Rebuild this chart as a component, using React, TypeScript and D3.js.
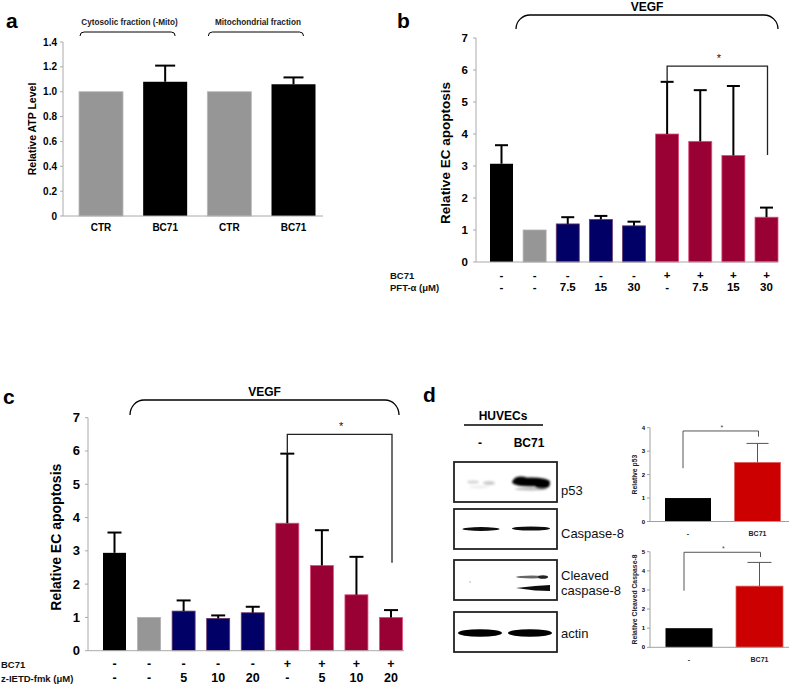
import React from "react";
import * as d3 from "d3";

const FONT = "'Liberation Sans', Arial, Helvetica, sans-serif";

// ---------- Panel a ----------
const aCategories = ["CTR", "BC71", "CTR", "BC71"];
const aValues = [1.0, 1.08, 1.0, 1.06];
const aErrors = [0, 0.13, 0, 0.055];
const aTicks = [0, 0.2, 0.4, 0.6, 0.8, 1.0, 1.2, 1.4];
const aGroups = ["Cytosolic fraction (-Mito)", "Mitochondrial fraction"];

// ---------- Panel b ----------
const bBC71 = ["-", "-", "-", "-", "-", "+", "+", "+", "+"];
const bPFT = ["-", "-", "7.5", "15", "30", "-", "7.5", "15", "30"];
const bValues = [3.07, 1.0, 1.19, 1.33, 1.13, 4.0, 3.77, 3.33, 1.4];
const bErrors = [0.58, 0, 0.21, 0.11, 0.13, 1.63, 1.6, 2.17, 0.3];
const bTicks = [0, 1, 2, 3, 4, 5, 6, 7];
const bSig = { from: 5, to: 8, level: 6.12, rightEnd: 3.34 };

// ---------- Panel c ----------
const cBC71 = ["-", "-", "-", "-", "-", "+", "+", "+", "+"];
const cIETD = ["-", "-", "5", "10", "20", "-", "5", "10", "20"];
const cValues = [2.94, 1.0, 1.19, 0.97, 1.14, 3.83, 2.56, 1.68, 1.0];
const cErrors = [0.61, 0, 0.32, 0.09, 0.18, 2.09, 1.06, 1.14, 0.22];
const cTicks = [0, 1, 2, 3, 4, 5, 6, 7];
const cSig = { from: 5, to: 8, level: 6.5, rightEnd: 2.64 };

// ---------- Panel d ----------
const dCategories = ["-", "BC71"];
const dP53Values = [1.0, 2.52];
const dP53Errors = [0, 0.81];
const dP53Ticks = [0, 1, 2, 3, 4];
const dP53Sig = { level: 3.86, leftEnd: 2.27, rightEnd: 3.62 };
const dCasValues = [1.0, 3.2];
const dCasErrors = [0, 1.24];
const dCasTicks = [0, 1, 2, 3, 4, 5];
const dCasSig = { level: 4.97, leftEnd: 2.96, rightEnd: 4.72 };
const blotLanes = ["-", "BC71"];
const blotRows = [["p53"], ["Caspase-8"], ["Cleaved", "caspase-8"], ["actin"]];

// ---------- colours ----------
const BLACK = "#000000";
const GRAY = "#969696";
const NAVY = "#000066";
const CRIMSON = "#990033";
const RED = "#cc0000";
const treatColors = [BLACK, GRAY, NAVY, NAVY, NAVY, CRIMSON, CRIMSON, CRIMSON, CRIMSON];
const treatStrokes = ["none", "#b0b0b0", "#6a3a6a", "#6a3a6a", "#6a3a6a", "#e0507a", "#e0507a", "#e0507a", "#e0507a"];

type BarProps = {
  values: number[];
  errors: number[];
  colors: string[];
  strokes?: string[];
  x: d3.ScalePoint<number>;
  y: d3.ScaleLinear<number, number>;
  barW: number;
  axisX: number;
  baseEnd: number;
  ticks: number[];
  tickFmt: (v: number) => string;
  tickFont: number;
  tickGap: number;
  tickWeight?: string;
  capW: number;
  stemW: number;
  axisColor: string;
  errColor: string;
};

function Bars(p: BarProps) {
  const y0 = p.y(0);
  const yTop = p.y(p.ticks[p.ticks.length - 1]);
  return (
    <g>
      <line x1={p.axisX} x2={p.axisX} y1={y0} y2={yTop} stroke={p.axisColor} strokeWidth={1} />
      {p.ticks.map((t) => (
        <g key={"t" + t}>
          <line x1={p.axisX - 3} x2={p.axisX} y1={p.y(t)} y2={p.y(t)} stroke={p.axisColor} strokeWidth={1} />
          <text
            x={p.axisX - p.tickGap}
            y={p.y(t)}
            textAnchor="end"
            dominantBaseline="central"
            fontSize={p.tickFont}
            fontWeight={p.tickWeight ?? "bold"}
          >
            {p.tickFmt(t)}
          </text>
        </g>
      ))}
      {p.values.map((v, i) => (
        <rect
          key={"b" + i}
          x={(p.x(i) as number) - p.barW / 2}
          y={p.y(v)}
          width={p.barW}
          height={y0 - p.y(v)}
          fill={p.colors[i]}
          stroke={p.strokes ? p.strokes[i] : "none"}
          strokeWidth={0.8}
        />
      ))}
      {p.values.map((v, i) =>
        p.errors[i] > 0 ? (
          <g key={"e" + i}>
            <line
              x1={p.x(i)}
              x2={p.x(i)}
              y1={p.y(v)}
              y2={p.y(v + p.errors[i])}
              stroke={p.errColor}
              strokeWidth={p.stemW}
            />
            <line
              x1={(p.x(i) as number) - p.capW / 2}
              x2={(p.x(i) as number) + p.capW / 2}
              y1={p.y(v + p.errors[i])}
              y2={p.y(v + p.errors[i])}
              stroke={p.errColor}
              strokeWidth={p.stemW}
            />
          </g>
        ) : null
      )}
      <line x1={p.axisX} x2={p.baseEnd} y1={y0} y2={y0} stroke={p.axisColor} strokeWidth={1} />
    </g>
  );
}

function roundBracket(x0: number, x1: number, yTop: number, yEnd: number, r: number) {
  return `M${x0},${yEnd} A${r},${yEnd - yTop} 0 0 1 ${x0 + r},${yTop} H${x1 - r} A${r},${yEnd - yTop} 0 0 1 ${x1},${yEnd}`;
}

function PanelA() {
  const y = d3.scaleLinear().domain([0, 1.4]).range([216, 42]);
  const x = d3.scalePoint<number>().domain(d3.range(aValues.length)).range([101, 293.5]);
  const bw = 44;
  const colors = aCategories.map((c) => (c === "CTR" ? GRAY : BLACK));
  const groups = [
    [0, 1],
    [2, 3],
  ];
  return (
    <g>
      <text x={6} y={28} fontSize={21} fontWeight="bold">a</text>
      <Bars
        values={aValues}
        errors={aErrors}
        colors={colors}
        strokes={aCategories.map((c) => (c === "CTR" ? "#b8b8b8" : "none"))}
        x={x}
        y={y}
        barW={bw}
        axisX={63}
        baseEnd={323}
        ticks={aTicks}
        tickFmt={(v) => (v === 0 ? "0" : d3.format(".1f")(v))}
        tickFont={10}
        tickGap={6}
        capW={20}
        stemW={2}
        axisColor="#aaaaaa"
        errColor="#000"
      />
      {aCategories.map((c, i) => (
        <text key={"ac" + i} x={x(i)} y={227} textAnchor="middle" dominantBaseline="central" fontSize={10} fontWeight="bold">
          {c}
        </text>
      ))}
      <text
        transform={`translate(32,129) rotate(-90)`}
        textAnchor="middle"
        dominantBaseline="central"
        fontSize={10.5}
        fontWeight="bold"
      >
        Relative ATP Level
      </text>
      {groups.map((g, k) => {
        const x0 = (x(g[0]) as number) - bw / 2 + 1;
        const x1 = (x(g[1]) as number) + bw / 2 - 12;
        return (
          <g key={"ag" + k}>
            <path d={roundBracket(x0, x1, 32, 36, 4)} fill="none" stroke="#000" strokeWidth={1} />
            <text x={(x0 + x1) / 2 + 2} y={22} textAnchor="middle" dominantBaseline="central" fontSize={8.2} fontWeight="bold" fill="#222">
              {aGroups[k]}
            </text>
          </g>
        );
      })}
    </g>
  );
}

type TreatProps = {
  letter: string;
  letterX: number;
  letterY: number;
  values: number[];
  errors: number[];
  row1: string[];
  row2: string[];
  row2Label: string;
  sig: { from: number; to: number; level: number; rightEnd: number };
  yRange: [number, number];
  xRange: [number, number];
  ticks: number[];
  axisX: number;
  baseEnd: number;
  tickFont: number;
  tickGap: number;
  valFont: number;
  labelFont: number;
  yLabelX: number;
  row1Y: number;
  row2Y: number;
  rowLabelX: number;
  vegf: [number, number, number, number];
  vegfTextY: number;
  capW: number;
};

function TreatPanel(p: TreatProps) {
  const y = d3.scaleLinear().domain([0, 7]).range(p.yRange);
  const x = d3.scalePoint<number>().domain(d3.range(p.values.length)).range(p.xRange);
  const xl = x(p.sig.from) as number;
  const xr = x(p.sig.to) as number;
  const leftEnd = p.values[p.sig.from] + p.errors[p.sig.from];
  const [v0, v1, vTop, vEnd] = p.vegf;
  return (
    <g>
      <text x={p.letterX} y={p.letterY} fontSize={21} fontWeight="bold">{p.letter}</text>
      <path d={roundBracket(v0, v1, vTop, vEnd, 14)} fill="none" stroke="#000" strokeWidth={1.3} />
      <text x={(v0 + v1) / 2} y={p.vegfTextY} textAnchor="middle" fontSize={12} fontWeight="bold">VEGF</text>
      <Bars
        values={p.values}
        errors={p.errors}
        colors={treatColors}
        strokes={treatStrokes}
        x={x}
        y={y}
        barW={23}
        axisX={p.axisX}
        baseEnd={p.baseEnd}
        ticks={p.ticks}
        tickFmt={(v) => String(v)}
        tickFont={p.tickFont}
        tickGap={p.tickGap}
        capW={p.capW}
        stemW={2}
        axisColor="#aaaaaa"
        errColor="#000"
      />
      <path
        d={`M${xl},${y(leftEnd)} V${y(p.sig.level)} H${xr + 1} V${y(p.sig.rightEnd)}`}
        fill="none"
        stroke="#222"
        strokeWidth={1.3}
      />
      <text x={(xl + xr) / 2 + 2} y={y(p.sig.level) - 4} textAnchor="middle" fontSize={11} fill="#111">*</text>
      <text
        transform={`translate(${p.yLabelX},${(p.yRange[0] + p.yRange[1]) / 2 + 3}) rotate(-90)`}
        textAnchor="middle"
        dominantBaseline="central"
        fontSize={p.labelFont}
        fontWeight="bold"
      >
        Relative EC apoptosis
      </text>
      <text x={p.rowLabelX} y={p.row1Y} dominantBaseline="central" fontSize={9.5} fontWeight="bold" fill="#111">BC71</text>
      <text x={p.rowLabelX} y={p.row2Y} dominantBaseline="central" fontSize={9.5} fontWeight="bold" fill="#111">{p.row2Label}</text>
      {p.row1.map((s, i) => (
        <text key={"r1" + i} x={x(i)} y={p.row1Y} textAnchor="middle" dominantBaseline="central" fontSize={p.valFont} fontWeight="bold">
          {s}
        </text>
      ))}
      {p.row2.map((s, i) => (
        <text key={"r2" + i} x={x(i)} y={p.row2Y} textAnchor="middle" dominantBaseline="central" fontSize={p.valFont} fontWeight="bold">
          {s}
        </text>
      ))}
    </g>
  );
}

type SmallProps = {
  values: number[];
  errors: number[];
  ticks: number[];
  yRange: [number, number];
  xRange: [number, number];
  barW: number;
  capW: number;
  sig: { level: number; leftEnd: number; rightEnd: number };
  label: string;
  catY: number;
};

function SmallChart(p: SmallProps) {
  const y = d3.scaleLinear().domain([0, p.ticks[p.ticks.length - 1]]).range(p.yRange);
  const x = d3.scalePoint<number>().domain(d3.range(p.values.length)).range(p.xRange);
  const xl = (x(0) as number) - 5;
  const xr = (x(1) as number) + 1;
  return (
    <g>
      <Bars
        values={p.values}
        errors={p.errors}
        colors={[BLACK, RED]}
        strokes={["none", "#e06060"]}
        x={x}
        y={y}
        barW={p.barW}
        axisX={650}
        baseEnd={789}
        ticks={p.ticks}
        tickFmt={(v) => String(v)}
        tickFont={6}
        tickGap={5}
        capW={p.capW}
        stemW={1}
        axisColor="#a0a0a0"
        errColor="#555"
      />
      <path
        d={`M${xl},${y(p.sig.leftEnd)} V${y(p.sig.level)} H${xr} V${y(p.sig.rightEnd)}`}
        fill="none"
        stroke="#555"
        strokeWidth={1}
      />
      <text x={(xl + xr) / 2 + 1} y={y(p.sig.level) - 1} textAnchor="middle" fontSize={7} fill="#444">*</text>
      {dCategories.map((c, i) => (
        <text key={"dc" + i} x={x(i)} y={p.catY} textAnchor="middle" dominantBaseline="central" fontSize={7} fontWeight="bold" fill="#222">
          {c}
        </text>
      ))}
      <text
        transform={`translate(634,${(p.yRange[0] + p.yRange[1]) / 2}) rotate(-90)`}
        textAnchor="middle"
        dominantBaseline="central"
        fontSize={6.8}
        fontWeight="bold"
        fill="#222"
      >
        {p.label}
      </text>
    </g>
  );
}

function Blot() {
  const boxX = 454;
  const boxW = 103;
  const rowTops = [462, 509, 560, 612];
  const boxH = 40;
  const lane = [481, 531];
  const labelOffsets = [[33], [28.5], [19.5, 34.5], [25.5]];
  return (
    <g>
      <defs>
        <filter id="bl1" x="-20%" y="-100%" width="140%" height="300%">
          <feGaussianBlur stdDeviation={0.7} />
        </filter>
        <filter id="bl2" x="-20%" y="-100%" width="140%" height="300%">
          <feGaussianBlur stdDeviation={1.3} />
        </filter>
      </defs>
      <text x={423} y={402} fontSize={21} fontWeight="bold">d</text>
      <text x={503} y={420} textAnchor="middle" fontSize={12} fontWeight="bold">HUVECs</text>
      <line x1={464} x2={543} y1={425} y2={425} stroke="#000" strokeWidth={1.6} />
      {blotLanes.map((l, i) => (
        <text key={"ln" + i} x={i === 0 ? 480 : 529} y={447} textAnchor="middle" fontSize={12} fontWeight="bold">
          {l}
        </text>
      ))}
      {/* p53 */}
      <g filter="url(#bl2)">
        <ellipse cx={lane[0] - 8} cy={482} rx={6} ry={1.6} fill="#aaa" opacity={0.5} />
        <ellipse cx={lane[0] + 8} cy={483} rx={6} ry={2} fill="#999" opacity={0.5} />
        <ellipse cx={lane[0] - 2} cy={487} rx={10} ry={1.2} fill="#ccc" opacity={0.4} />
        <ellipse cx={lane[1]} cy={482} rx={19} ry={4.5} fill="#000" />
        <ellipse cx={lane[1] - 10} cy={481} rx={8} ry={4.5} fill="#000" />
        <ellipse cx={lane[1] + 11} cy={484} rx={8} ry={5} fill="#000" />
        <ellipse cx={lane[1]} cy={489} rx={16} ry={1.5} fill="#888" opacity={0.6} />
      </g>
      {/* Caspase-8 */}
      <g filter="url(#bl1)">
        <ellipse cx={lane[0]} cy={529} rx={18.5} ry={1.9} fill="#111" />
        <ellipse cx={lane[1]} cy={528.5} rx={19} ry={2.1} fill="#111" />
      </g>
      {/* Cleaved caspase-8 */}
      <g filter="url(#bl1)">
        <ellipse cx={lane[1] + 1} cy={577} rx={16} ry={1.4} fill="#666" />
        <ellipse cx={lane[1] + 12} cy={577} rx={5} ry={1.8} fill="#222" />
        <path d={`M${lane[1] - 15},588 L${lane[1] + 4},586 L${lane[1] + 19},585 L${lane[1] + 19},591 L${lane[1] + 4},590.5 Z`} fill="#111" />
        <ellipse cx={470} cy={582} rx={1} ry={0.8} fill="#bbb" />
      </g>
      {/* actin */}
      <g filter="url(#bl1)">
        <ellipse cx={lane[0] - 1} cy={633} rx={22} ry={3.8} fill="#000" />
        <ellipse cx={lane[1] - 1} cy={633} rx={22} ry={3.8} fill="#000" />
      </g>
      {rowTops.map((t, i) => (
        <g key={"box" + i}>
          <rect x={boxX} y={t} width={boxW} height={boxH} fill="none" stroke="#222" strokeWidth={1.8} />
          {blotRows[i].map((s, k) => (
            <text key={k} x={561} y={t + labelOffsets[i][k]} fontSize={13} fill="#111">
              {s}
            </text>
          ))}
        </g>
      ))}
    </g>
  );
}

export default function App() {
  return (
    <svg
      width={790}
      height={685}
      viewBox="0 0 790 685"
      style={{ position: "absolute", left: 0, top: 0, background: "#fff" }}
      fontFamily={FONT}
    >
      <rect width={790} height={685} fill="#fff" />
      <PanelA />
      <TreatPanel
        letter="b"
        letterX={397}
        letterY={28}
        values={bValues}
        errors={bErrors}
        row1={bBC71}
        row2={bPFT}
        row2Label="PFT-α (μM)"
        sig={bSig}
        yRange={[262, 38]}
        xRange={[501.5, 766.5]}
        ticks={bTicks}
        axisX={476}
        baseEnd={778}
        tickFont={11.5}
        tickGap={8}
        valFont={11.5}
        labelFont={13.5}
        yLabelX={445}
        row1Y={275}
        row2Y={287}
        rowLabelX={390}
        vegf={[516, 778, 15, 29]}
        vegfTextY={11}
        capW={13}
      />
      <TreatPanel
        letter="c"
        letterX={3}
        letterY={404}
        values={cValues}
        errors={cErrors}
        row1={cBC71}
        row2={cIETD}
        row2Label="z-IETD-fmk (μM)"
        sig={cSig}
        yRange={[650.7, 417.7]}
        xRange={[114.5, 391]}
        ticks={cTicks}
        axisX={88}
        baseEnd={404}
        tickFont={13}
        tickGap={8}
        valFont={12.5}
        labelFont={14}
        yLabelX={56}
        row1Y={664}
        row2Y={678}
        rowLabelX={1}
        vegf={[130, 399, 400, 415]}
        vegfTextY={396}
        capW={14}
      />
      <Blot />
      <SmallChart
        values={dP53Values}
        errors={dP53Errors}
        ticks={dP53Ticks}
        yRange={[521.5, 427.7]}
        xRange={[688, 757.5]}
        barW={46}
        capW={22}
        sig={dP53Sig}
        label="Relative p53"
        catY={533}
      />
      <SmallChart
        values={dCasValues}
        errors={dCasErrors}
        ticks={dCasTicks}
        yRange={[647.3, 551.7]}
        xRange={[689, 759.5]}
        barW={47}
        capW={24}
        sig={dCasSig}
        label="Relative Cleaved Caspase-8"
        catY={659}
      />
    </svg>
  );
}
